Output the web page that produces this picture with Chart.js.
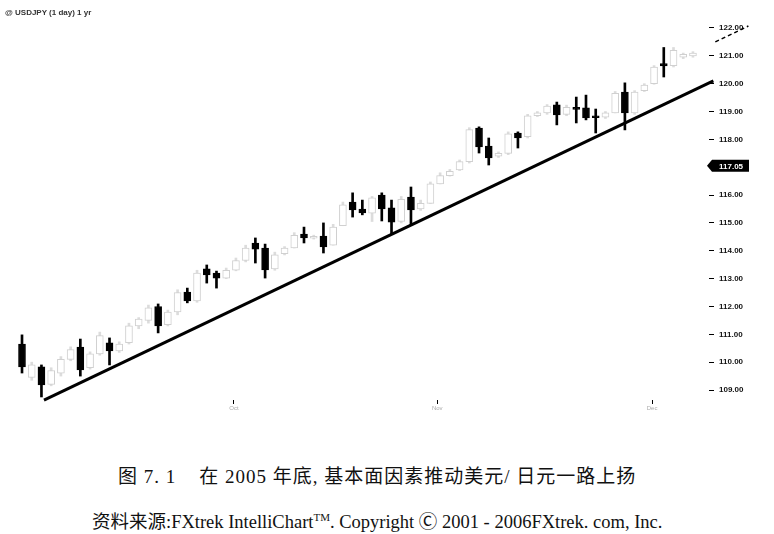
<!DOCTYPE html>
<html>
<head>
<meta charset="utf-8">
<script src="https://cdn.jsdelivr.net/npm/chart.js@4/dist/chart.umd.min.js"></script>
<style>
  body { margin: 0; background: #fff; width: 774px; height: 534px; position: relative; overflow: hidden; }
  #wrap { position: absolute; left: 0; top: 0; width: 774px; height: 430px; }
  #sym { position: absolute; left: 5px; top: 8px; font: bold 8px "Liberation Sans", Arial, sans-serif; color: #333; }
  .cap { position: absolute; white-space: nowrap; color: #111; }
  #cap1 { left: 118px; top: 461px; font: 19px "Liberation Serif", "Noto Sans CJK SC", serif; letter-spacing: 1px; }
  #cap2 { left: 92px; top: 507px; font: 18.5px "Liberation Serif", "Noto Sans CJK SC", serif; }
  #cap2 sup { font-size: 11px; }
</style>
</head>
<body>
<div id="wrap"><canvas id="fxChart" width="774" height="430"></canvas></div>
<div id="sym">@ USDJPY (1 day) 1 yr</div>
<div class="cap" id="cap1">图 7. 1&nbsp;&nbsp;&nbsp; 在 2005 年底, 基本面因素推动美元/ 日元一路上扬</div>
<div class="cap" id="cap2">资料来源:FXtrek IntelliChart<sup>TM</sup>. Copyright &#x24B8; 2001 - 2006FXtrek. com, Inc.</div>
<script>
// daily USD/JPY candles
const opens  = [110.65, 109.45, 109.83, 109.2, 109.6, 110.1, 110.54, 109.8, 110.3, 110.69,
                110.4, 110.7, 111.3, 111.5, 112.0, 111.35, 111.8, 112.52, 112.2, 113.35,
                113.2, 113.02, 113.3, 113.65, 114.28, 114.1, 113.35, 113.9, 114.1, 114.6,
                114.45, 114.53, 114.2, 114.9, 115.75, 115.5, 115.35, 116.0, 115.54, 115.05,
                115.93, 115.5, 115.7, 116.4, 116.7, 116.9, 117.2, 118.41, 117.76, 117.4,
                117.5, 118.23, 118.1, 118.85, 118.95, 119.24, 118.9, 119.15, 119.13, 118.85,
                118.8, 118.95, 119.7, 118.95, 119.75, 120.0, 120.72, 120.65, 120.95, 121.0];
const highs  = [110.98, 110.0, 109.9, 109.8, 110.2, 110.55, 110.83, 110.37, 111.08, 110.87,
                110.73, 111.4, 111.6, 112.05, 112.09, 111.87, 112.6, 112.66, 113.3, 113.49,
                113.27, 113.38, 113.74, 114.2, 114.46, 114.24, 113.95, 114.15, 114.65, 114.85,
                114.56, 115.0, 114.95, 115.75, 116.08, 115.82, 115.95, 116.08, 115.82, 115.95,
                116.29, 115.82, 116.47, 116.8, 116.92, 117.26, 118.42, 118.45, 118.05, 117.55,
                118.27, 118.27, 118.9, 119.0, 119.25, 119.34, 119.23, 119.52, 119.59, 119.09,
                119.0, 119.72, 120.03, 119.75, 120.0, 120.65, 121.3, 121.3, 121.1, 121.15];
const lows   = [109.61, 109.35, 108.75, 109.15, 109.5, 110.05, 109.5, 109.75, 110.25, 109.9,
                110.35, 110.65, 111.2, 111.4, 111.05, 111.3, 111.7, 112.13, 112.15, 112.84,
                112.66, 113.0, 113.28, 113.6, 113.56, 113.02, 113.3, 113.85, 114.1, 114.28,
                114.42, 113.92, 114.2, 114.9, 115.21, 115.29, 115.05, 115.07, 114.6, 115.0,
                114.93, 115.45, 115.7, 116.4, 116.68, 116.88, 117.15, 117.51, 117.08, 117.35,
                117.45, 117.69, 118.05, 118.82, 118.9, 118.52, 118.85, 118.59, 118.7, 118.23,
                118.75, 118.95, 118.34, 118.9, 119.72, 119.98, 120.24, 120.6, 120.9, 120.95];
const closes = [109.83, 109.9, 109.18, 109.7, 110.1, 110.45, 109.72, 110.3, 110.95, 110.4,
                110.65, 111.3, 111.55, 111.95, 111.3, 111.8, 112.5, 112.2, 113.2, 113.13,
                113.02, 113.3, 113.65, 114.1, 114.06, 113.31, 113.85, 114.1, 114.55, 114.46,
                114.52, 114.14, 114.85, 115.65, 115.47, 115.36, 115.9, 115.5, 115.03, 115.85,
                115.47, 115.7, 116.4, 116.7, 116.85, 117.2, 118.35, 117.73, 117.33, 117.5,
                118.2, 118.05, 118.85, 118.95, 119.2, 118.88, 119.15, 119.08, 118.77, 118.78,
                118.95, 119.65, 118.95, 119.7, 119.95, 120.6, 120.64, 121.2, 121.05, 121.1];

const yTicks = [109, 110, 111, 112, 113, 114, 115, 116, 117, 118, 119, 120, 121, 122];
const monthTicks = [21.8, 42.7, 64.8];
const monthLabels = ['Oct', 'Nov', 'Dec'];
const trendX = [2.26, 71.1];
const trendY = [108.64, 120.1];
const channelX = [71.3, 74.7];
const channelY = [121.5, 122.07];
const lastMark = 117.05;

const down = closes.map((c, i) => c < opens[i]);
const FAINT = '#d0d0d0';

const bodies = opens.map((o, i) => ({ x: i, y: [Math.min(o, closes[i]), Math.max(o, closes[i])] }));
const wicks = lows.map((l, i) => ({ x: i, y: [l, highs[i]] }));

const priceBox = {
  id: 'priceBox',
  afterDraw(chart) {
    const c = chart.ctx;
    const y = chart.scales.y.getPixelForValue(lastMark);
    c.save();
    c.fillStyle = '#000';
    c.beginPath();
    c.moveTo(707, y);
    c.lineTo(712, y - 6);
    c.lineTo(749, y - 6);
    c.lineTo(749, y + 6);
    c.lineTo(712, y + 6);
    c.closePath();
    c.fill();
    c.fillStyle = '#fff';
    c.font = 'bold 8px "Liberation Sans", Arial, sans-serif';
    c.textBaseline = 'middle';
    c.fillText(lastMark.toFixed(2), 719, y + 0.5);
    c.restore();
  }
};

new Chart(document.getElementById('fxChart').getContext('2d'), {
  type: 'bar',
  data: {
    datasets: [
      {
        type: 'line',
        data: trendX.map((x, i) => ({ x, y: trendY[i] })),
        borderColor: '#000',
        borderWidth: 3,
        pointRadius: 0,
        clip: false,
        order: 0
      },
      {
        type: 'line',
        data: channelX.map((x, i) => ({ x, y: channelY[i] })),
        borderColor: '#000',
        borderWidth: 1.5,
        borderDash: [4, 3],
        pointRadius: 0,
        clip: false,
        order: 0
      },
      {
        data: bodies,
        backgroundColor: down.map(d => d ? '#000' : '#fff'),
        borderColor: down.map(d => d ? '#000' : FAINT),
        borderWidth: 1,
        borderSkipped: false,
        barThickness: 7,
        grouped: false,
        order: 1
      },
      {
        data: wicks,
        backgroundColor: down.map(d => d ? '#000' : '#dcdcdc'),
        borderWidth: 0,
        barThickness: 2,
        grouped: false,
        order: 2
      }
    ]
  },
  options: {
    responsive: false,
    animation: false,
    layout: { padding: { left: 8, top: 20, right: 0, bottom: 0 } },
    plugins: { legend: { display: false }, tooltip: { enabled: false } },
    scales: {
      x: {
        type: 'linear',
        offset: false,
        min: -1.44,
        max: 70.65,
        afterBuildTicks: axis => { axis.ticks = monthTicks.map(v => ({ value: v })); },
        afterFit: axis => { axis.height = 30; },
        ticks: {
          callback: (v, i) => monthLabels[i],
          font: { size: 6, family: 'Liberation Sans' },
          color: '#aaa',
          padding: 1,
          maxRotation: 0
        },
        grid: { offset: false, drawOnChartArea: false, drawTicks: true, tickLength: 4, color: '#000' },
        border: { display: false }
      },
      y: {
        position: 'right',
        min: 108.641,
        max: 122.287,
        afterBuildTicks: axis => { axis.ticks = yTicks.map(v => ({ value: v })); },
        afterFit: axis => { axis.width = 65; },
        ticks: {
          callback: v => v.toFixed(2),
          font: { size: 8, weight: 'bold', family: 'Liberation Sans' },
          color: '#111',
          padding: 5
        },
        grid: { drawOnChartArea: false, drawTicks: true, tickLength: 5, color: '#000' },
        border: { display: false }
      }
    }
  },
  plugins: [priceBox]
});
</script>
</body>
</html>
